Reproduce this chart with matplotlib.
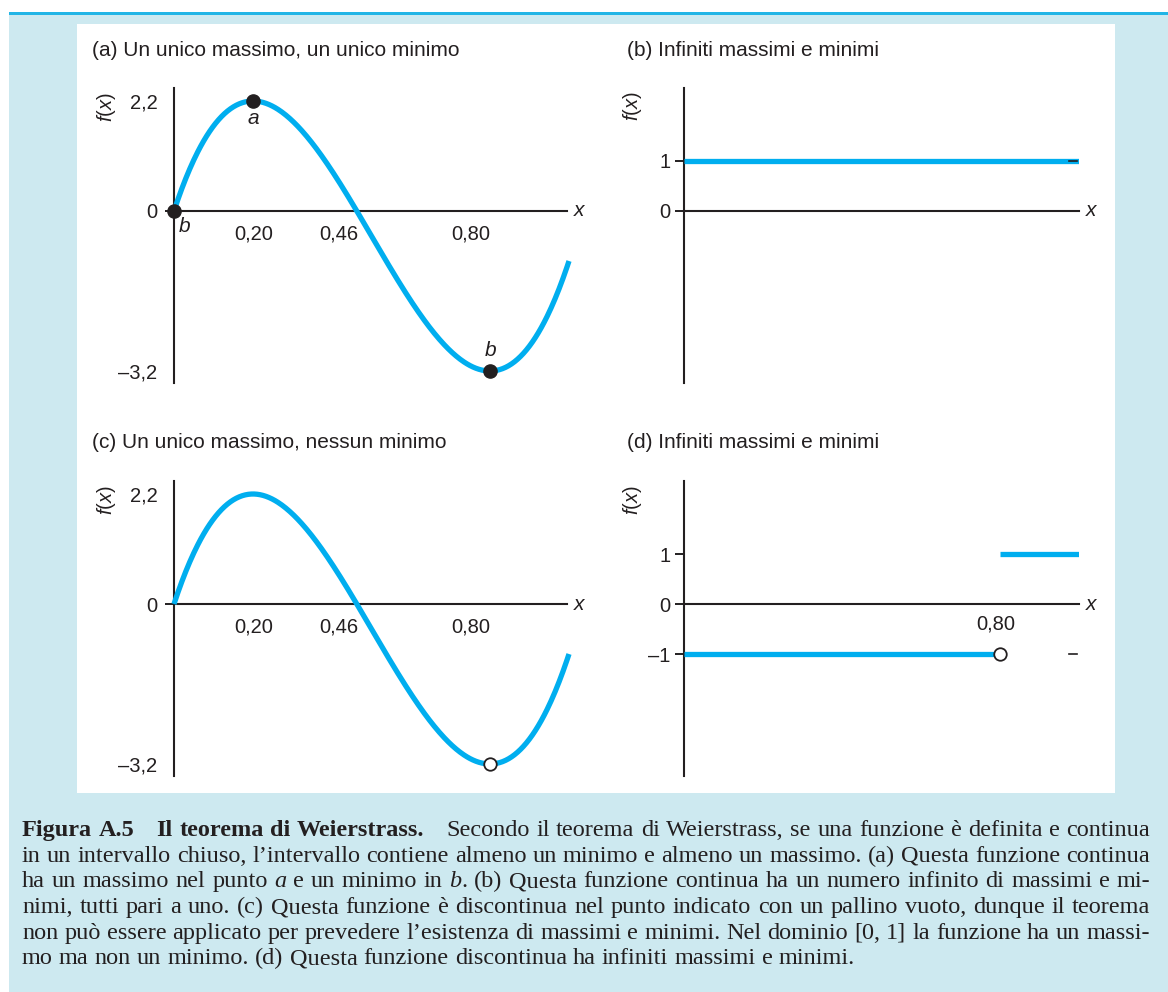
import numpy as np
import matplotlib
matplotlib.use("Agg")
import matplotlib.pyplot as plt
from matplotlib.patches import Rectangle

W, H = 1168, 992
INK = "#231f20"
CYAN = "#00aeef"
BG = "#cde9f0"
RULE = "#22b5e6"

plt.rcParams["font.family"] = ["Liberation Sans", "DejaVu Sans"]
plt.rcParams["mathtext.fontset"] = "custom"
plt.rcParams["mathtext.rm"] = "Liberation Sans"
plt.rcParams["mathtext.it"] = "Liberation Sans:italic"

# cubic used in (a) and (c): f(x) = 50x^3 - 75x^2 + 24x on [0, 1]
cubic_coeffs = [50, -75, 24, 0]
x_peak, f_peak = 0.20, 2.2
x_root = 0.46
x_trough, f_trough = 0.80, -3.2
cubic_yticks = [2.2, 0, -3.2]
cubic_ylabels = ["2,2", "0", "\u20133,2"]
cubic_xlabels = ["0,20", "0,46", "0,80"]

# (b) constant function
const_level = 1
const_yticks = [1, 0]
const_ylabels = ["1", "0"]

# (d) step function
step_x = 0.80
step_low, step_high = -1, 1
step_yticks = [1, 0, -1]
step_ylabels = ["1", "0", "\u20131"]

titles = ["(a) Un unico massimo, un unico minimo",
          "(b) Infiniti massimi e minimi",
          "(c) Un unico massimo, nessun minimo",
          "(d) Infiniti massimi e minimi"]

fig = plt.figure(figsize=(W / 100, H / 100), dpi=100)
fig.patch.set_facecolor("white")

# page background, rule and white plotting area
fig.add_artist(Rectangle((9 / W, 0), (W - 9) / W, (H - 14) / H, transform=fig.transFigure,
                         facecolor=BG, edgecolor="none", zorder=-10))
fig.add_artist(Rectangle((9 / W, 1 - 14.5 / H), (W - 9) / W, 2.5 / H, transform=fig.transFigure,
                         facecolor=RULE, edgecolor="none", zorder=-9))
fig.add_artist(Rectangle((77 / W, 1 - 793 / H), (1115 - 77) / W, (793 - 24) / H,
                         transform=fig.transFigure, facecolor="white", edgecolor="none", zorder=-9))


def px_axes(left, top, right, bottom):
    return fig.add_axes([left / W, 1 - bottom / H, (right - left) / W, (bottom - top) / H])


def setup(ax, xmax, yticks, ylabels, marked, pad):
    ax.set_xlim(0, xmax)
    ax.set_ylim(-3.44, 2.46)
    ax.patch.set_visible(False)
    ax.spines["top"].set_visible(False)
    ax.spines["right"].set_visible(False)
    ax.spines["bottom"].set_position(("data", 0))
    for s in ("left", "bottom"):
        ax.spines[s].set_linewidth(1.5)
        ax.spines[s].set_color(INK)
    ax.set_xticks([])
    ax.set_yticks(yticks, ylabels)
    ax.tick_params(axis="y", length=6.5, width=1.4, color=INK, pad=pad,
                   labelsize=14.5, labelcolor=INK)
    for tick, v in zip(ax.yaxis.get_major_ticks(), yticks):
        if v not in marked:
            tick.tick1line.set_visible(False)
    ax.annotate("x", xy=(xmax, 0), xytext=(12, 0), textcoords="offset pixels",
                style="italic", fontsize=15, color=INK, ha="center", va="center",
                annotation_clip=False)


def xlabel(ax, text, x, dx, dy=-23):
    ax.annotate(text, xy=(x, 0), xytext=(dx, dy), textcoords="offset pixels",
                fontsize=14.5, color=INK, ha="center", va="center", annotation_clip=False)


xs = np.linspace(0, 1, 400)
fx = np.polyval(cubic_coeffs, xs)

# (a) and (c)
for top, bottom, title_y, closed in [(88, 383, 50, True), (481, 776, 443, False)]:
    ax = px_axes(174, top, 174 + 0.995 * 395, bottom)
    setup(ax, 0.995, cubic_yticks, cubic_ylabels, [0], pad=5.5)
    ax.plot(xs, fx, color=CYAN, lw=3.8, clip_on=False, solid_capstyle="butt", zorder=3)
    for lab, x, dx in zip(cubic_xlabels, [x_peak, x_root, x_trough], [1, -17, -19]):
        xlabel(ax, lab, x, dx)
    if closed:
        ax.plot([x_peak, 0, x_trough], [f_peak, 0, f_trough], "o", color=INK, ms=9.5,
                clip_on=False, zorder=4)
        for txt, pt, off in [("a", (x_peak, f_peak), (0, -18)), ("b", (0, 0), (11, -16)),
                             ("b", (x_trough, f_trough), (1, 20))]:
            ax.annotate(txt, xy=pt, xytext=off, textcoords="offset pixels", style="italic",
                        fontsize=15, color=INK, ha="center", va="center", annotation_clip=False)
    else:
        ax.plot([x_trough], [f_trough], "o", mfc="white", mec=INK, mew=1.3, ms=9,
                clip_on=False, zorder=4)
    fig.text(92 / W, 1 - title_y / H, titles[0 if closed else 2], fontsize=15, color=INK, va="center")
    fig.text(106 / W, 1 - (top + 19) / H, "$f(x)$", fontsize=14.5, color=INK, rotation=90,
             ha="center", va="center")

# (b) constant
ax = px_axes(684, 88, 684 + 395, 383)
setup(ax, 1.0, const_yticks, const_ylabels, const_yticks, pad=3)
ax.plot([0, 1], [const_level, const_level], color=CYAN, lw=3.8, solid_capstyle="butt", zorder=3)
ax.plot([0.975, 0.995], [const_level, const_level], color=INK, lw=1.2, zorder=4)
fig.text(627 / W, 1 - 50 / H, titles[1], fontsize=15, color=INK, va="center")
fig.text(632 / W, 1 - 106 / H, "$f(x)$", fontsize=14.5, color=INK, rotation=90,
         ha="center", va="center")

# (d) step with a jump at 0.80
ax = px_axes(684, 481, 684 + 395, 776)
setup(ax, 1.0, step_yticks, step_ylabels, step_yticks, pad=3)
ax.plot([0, step_x], [step_low, step_low], color=CYAN, lw=3.8, solid_capstyle="butt", zorder=3)
ax.plot([step_x, 1], [step_high, step_high], color=CYAN, lw=3.8, solid_capstyle="butt", zorder=3)
ax.plot([step_x], [step_low], "o", mfc="white", mec=INK, mew=1.3, ms=9, zorder=4)
ax.plot([0.975, 0.995], [step_low, step_low], color=INK, lw=1.2, zorder=4)
xlabel(ax, "0,80", step_x, -4, -20)
fig.text(627 / W, 1 - 443 / H, titles[3], fontsize=15, color=INK, va="center")
fig.text(632 / W, 1 - 500 / H, "$f(x)$", fontsize=14.5, color=INK, rotation=90,
         ha="center", va="center")

# caption, justified between two margins
B = {"weight": "bold"}
I = {"style": "italic"}
R = {}
GAP = None
caption = [
    [[("Figura", B)], [("A.5", B)], GAP, [("Il", B)], [("teorema", B)], [("di", B)],
     [("Weierstrass.", B)], GAP]
    + [[(w, R)] for w in "Secondo il teorema di Weierstrass, se una funzione è definita e continua".split()],
    [[(w, R)] for w in "in un intervallo chiuso, l\u2019intervallo contiene almeno un minimo e almeno un massimo. (a) Questa funzione continua".split()],
    [[(w, R)] for w in "ha un massimo nel punto".split()] + [[("a", I)]]
    + [[(w, R)] for w in "e un minimo in".split()] + [[("b", I), (".", R)]]
    + [[(w, R)] for w in "(b) Questa funzione continua ha un numero infinito di massimi e mi-".split()],
    [[(w, R)] for w in "nimi, tutti pari a uno. (c) Questa funzione è discontinua nel punto indicato con un pallino vuoto, dunque il teorema".split()],
    [[(w, R)] for w in "non può essere applicato per prevedere l\u2019esistenza di massimi e minimi. Nel dominio [0, 1] la funzione ha un massi-".split()],
    [[(w, R)] for w in "mo ma non un minimo. (d) Questa funzione discontinua ha infiniti massimi e minimi.".split()],
]

renderer = fig.canvas.get_renderer()
cap_size = 17.5
x_left, x_right = 22, 1150
gap_px = 22
for i, line in enumerate(caption):
    y = 1 - (836 + i * 25.7) / H
    words = []
    for word in line:
        if word is GAP:
            words.append(GAP)
            continue
        runs = []
        for text, props in word:
            t = fig.text(0, y, text, fontsize=cap_size, family="Liberation Serif", color=INK,
                         va="baseline", **props)
            runs.append((t, t.get_window_extent(renderer).width))
        words.append(runs)
    widths = sum(w for runs in words if runs is not GAP for _, w in runs)
    n_gaps = sum(1 for w in words if w is GAP)
    n_spaces = sum(1 for a, b in zip(words[:-1], words[1:]) if a is not GAP and b is not GAP)
    if i < len(caption) - 1:
        space = (x_right - x_left - widths - n_gaps * gap_px) / n_spaces
    else:
        space = cap_size * 1.389 * 0.25
    x = x_left
    prev = GAP
    for runs in words:
        if runs is GAP:
            x += gap_px
        else:
            if prev is not GAP:
                x += space
            for t, w in runs:
                t.set_x(x / W)
                x += w
        prev = runs

fig.savefig("out.png", dpi=100)
